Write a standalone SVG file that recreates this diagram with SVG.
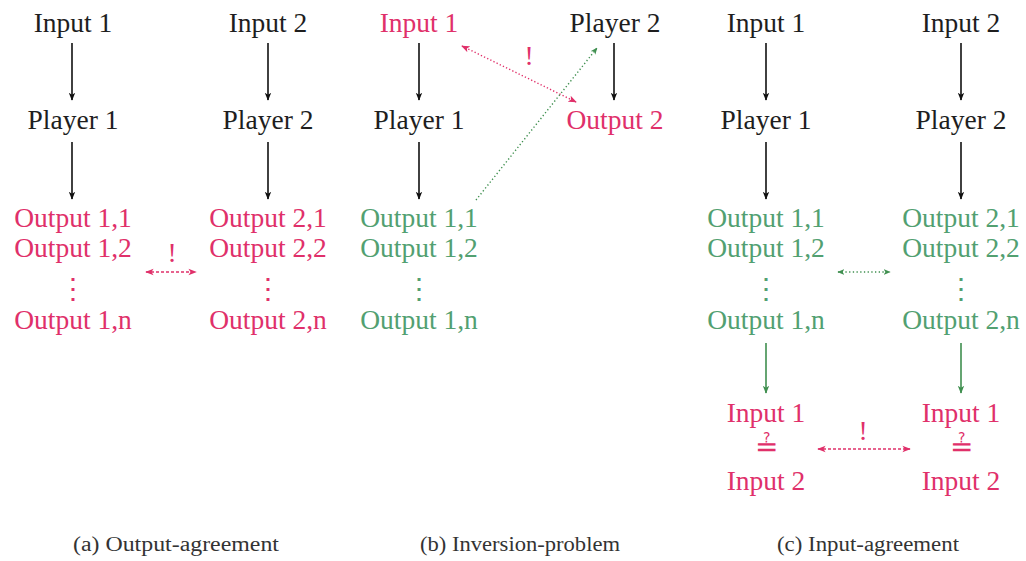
<svg xmlns="http://www.w3.org/2000/svg" width="1026" height="561" viewBox="0 0 1026 561" font-family="'Liberation Serif', 'DejaVu Serif', serif">
<style>
text{font-family:'Liberation Serif','DejaVu Serif',serif;font-size:27.5px;text-anchor:middle}
.k{fill:#1e1e1e}
.r{fill:#e0306a}
.g{fill:#52a071}
.cap{font-size:20px;fill:#333}
.ka{stroke:#111;stroke-width:1.6;fill:none;marker-end:url(#mk)}
.ga{stroke:#3f8f4f;stroke-width:1.6;fill:none;marker-end:url(#mg)}
.rd{stroke:#e0306a;stroke-width:1.4;fill:none;stroke-dasharray:3 2;marker-start:url(#mr);marker-end:url(#mr)}
.rdot{stroke:#e0306a;stroke-width:1.4;fill:none;stroke-dasharray:1.3 2.2;marker-start:url(#mr);marker-end:url(#mr)}
.gdot{stroke:#3f8f4f;stroke-width:1.4;fill:none;stroke-dasharray:1.3 2.4}
</style>
<defs>
<marker id="mk" viewBox="0 0 10 10" refX="9" refY="5" markerWidth="5" markerHeight="5" orient="auto-start-reverse" markerUnits="strokeWidth"><path d="M0,1 L10,5 L0,9 L2.5,5 Z" fill="#111"/></marker>
<marker id="mg" viewBox="0 0 10 10" refX="9" refY="5" markerWidth="5" markerHeight="5" orient="auto-start-reverse" markerUnits="strokeWidth"><path d="M0,1 L10,5 L0,9 L2.5,5 Z" fill="#3f8f4f"/></marker>
<marker id="mr" viewBox="0 0 10 10" refX="9" refY="5" markerWidth="6" markerHeight="6" orient="auto-start-reverse" markerUnits="strokeWidth"><path d="M0,1 L10,5 L0,9 L2.5,5 Z" fill="#e0306a"/></marker>
</defs>

<g id="connectors">
<line class="ka" x1="72" y1="43" x2="72" y2="100"/>
<line class="ka" x1="72" y1="142" x2="72" y2="199"/>
<line class="ka" x1="268" y1="43" x2="268" y2="100"/>
<line class="ka" x1="268" y1="142" x2="268" y2="199"/>
<line class="rd" x1="146" y1="272" x2="196" y2="272"/>

<line class="ka" x1="419" y1="43" x2="419" y2="100"/>
<line class="ka" x1="419" y1="142" x2="419" y2="199"/>
<line class="ka" x1="614" y1="43" x2="614" y2="100"/>
<line class="rdot" x1="462" y1="46" x2="576" y2="102"/>
<line class="gdot" x1="476" y1="200" x2="597" y2="48" marker-end="url(#mg)"/>

<line class="ka" x1="766" y1="43" x2="766" y2="100"/>
<line class="ka" x1="766" y1="142" x2="766" y2="199"/>
<line class="ka" x1="961" y1="43" x2="961" y2="100"/>
<line class="ka" x1="961" y1="142" x2="961" y2="199"/>
<line class="gdot" x1="838" y1="272" x2="890" y2="272" marker-start="url(#mg)" marker-end="url(#mg)"/>
<line class="ga" x1="766" y1="343" x2="766" y2="393"/>
<line class="ga" x1="961" y1="343" x2="961" y2="393"/>
<line class="rd" x1="818" y1="449" x2="910" y2="449"/>
</g>

<g id="panel-a">
<g id="a-input1"><text class="k" x="73" y="32">Input 1</text></g>
<g id="a-input2"><text class="k" x="268" y="32">Input 2</text></g>
<g id="a-player1"><text class="k" x="73" y="129">Player 1</text></g>
<g id="a-player2"><text class="k" x="268" y="129">Player 2</text></g>
<g id="a-out1">
<text class="r" x="73" y="227">Output 1,1</text>
<text class="r" x="73" y="257">Output 1,2</text>
<text class="r" x="73" y="298">⋮</text>
<text class="r" x="73" y="329">Output 1,n</text>
</g>
<g id="a-out2">
<text class="r" x="268" y="227">Output 2,1</text>
<text class="r" x="268" y="257">Output 2,2</text>
<text class="r" x="268" y="298">⋮</text>
<text class="r" x="268" y="329">Output 2,n</text>
</g>
<text class="r" x="172" y="262">!</text>
</g>

<g id="panel-b">
<g id="b-input1"><text class="r" x="419" y="32">Input 1</text></g>
<g id="b-player2"><text class="k" x="615" y="32">Player 2</text></g>
<g id="b-player1"><text class="k" x="419" y="129">Player 1</text></g>
<g id="b-output2"><text class="r" x="615" y="129">Output 2</text></g>
<g id="b-out1">
<text class="g" x="419" y="227">Output 1,1</text>
<text class="g" x="419" y="257">Output 1,2</text>
<text class="g" x="419" y="298">⋮</text>
<text class="g" x="419" y="329">Output 1,n</text>
</g>
<text class="r" x="529" y="65">!</text>
</g>

<g id="panel-c">
<g id="c-input1"><text class="k" x="766" y="32">Input 1</text></g>
<g id="c-input2"><text class="k" x="961" y="32">Input 2</text></g>
<g id="c-player1"><text class="k" x="766" y="129">Player 1</text></g>
<g id="c-player2"><text class="k" x="961" y="129">Player 2</text></g>
<g id="c-out1">
<text class="g" x="766" y="227">Output 1,1</text>
<text class="g" x="766" y="257">Output 1,2</text>
<text class="g" x="766" y="298">⋮</text>
<text class="g" x="766" y="329">Output 1,n</text>
</g>
<g id="c-out2">
<text class="g" x="961" y="227">Output 2,1</text>
<text class="g" x="961" y="257">Output 2,2</text>
<text class="g" x="961" y="298">⋮</text>
<text class="g" x="961" y="329">Output 2,n</text>
</g>
<g id="c-check1">
<text class="r" x="766" y="422">Input 1</text>
<text class="r" x="766" y="456" style="font-size:28px">≟</text>
<text class="r" x="766" y="490">Input 2</text>
</g>
<g id="c-check2">
<text class="r" x="961" y="422">Input 1</text>
<text class="r" x="961" y="456" style="font-size:28px">≟</text>
<text class="r" x="961" y="490">Input 2</text>
</g>
<text class="r" x="863" y="440">!</text>
</g>

<g id="captions">
<text class="cap" x="176" y="551" textLength="206" lengthAdjust="spacingAndGlyphs">(a) Output-agreement</text>
<text class="cap" x="520" y="551" textLength="200" lengthAdjust="spacingAndGlyphs">(b) Inversion-problem</text>
<text class="cap" x="868" y="551" textLength="182" lengthAdjust="spacingAndGlyphs">(c) Input-agreement</text>
</g>
</svg>
